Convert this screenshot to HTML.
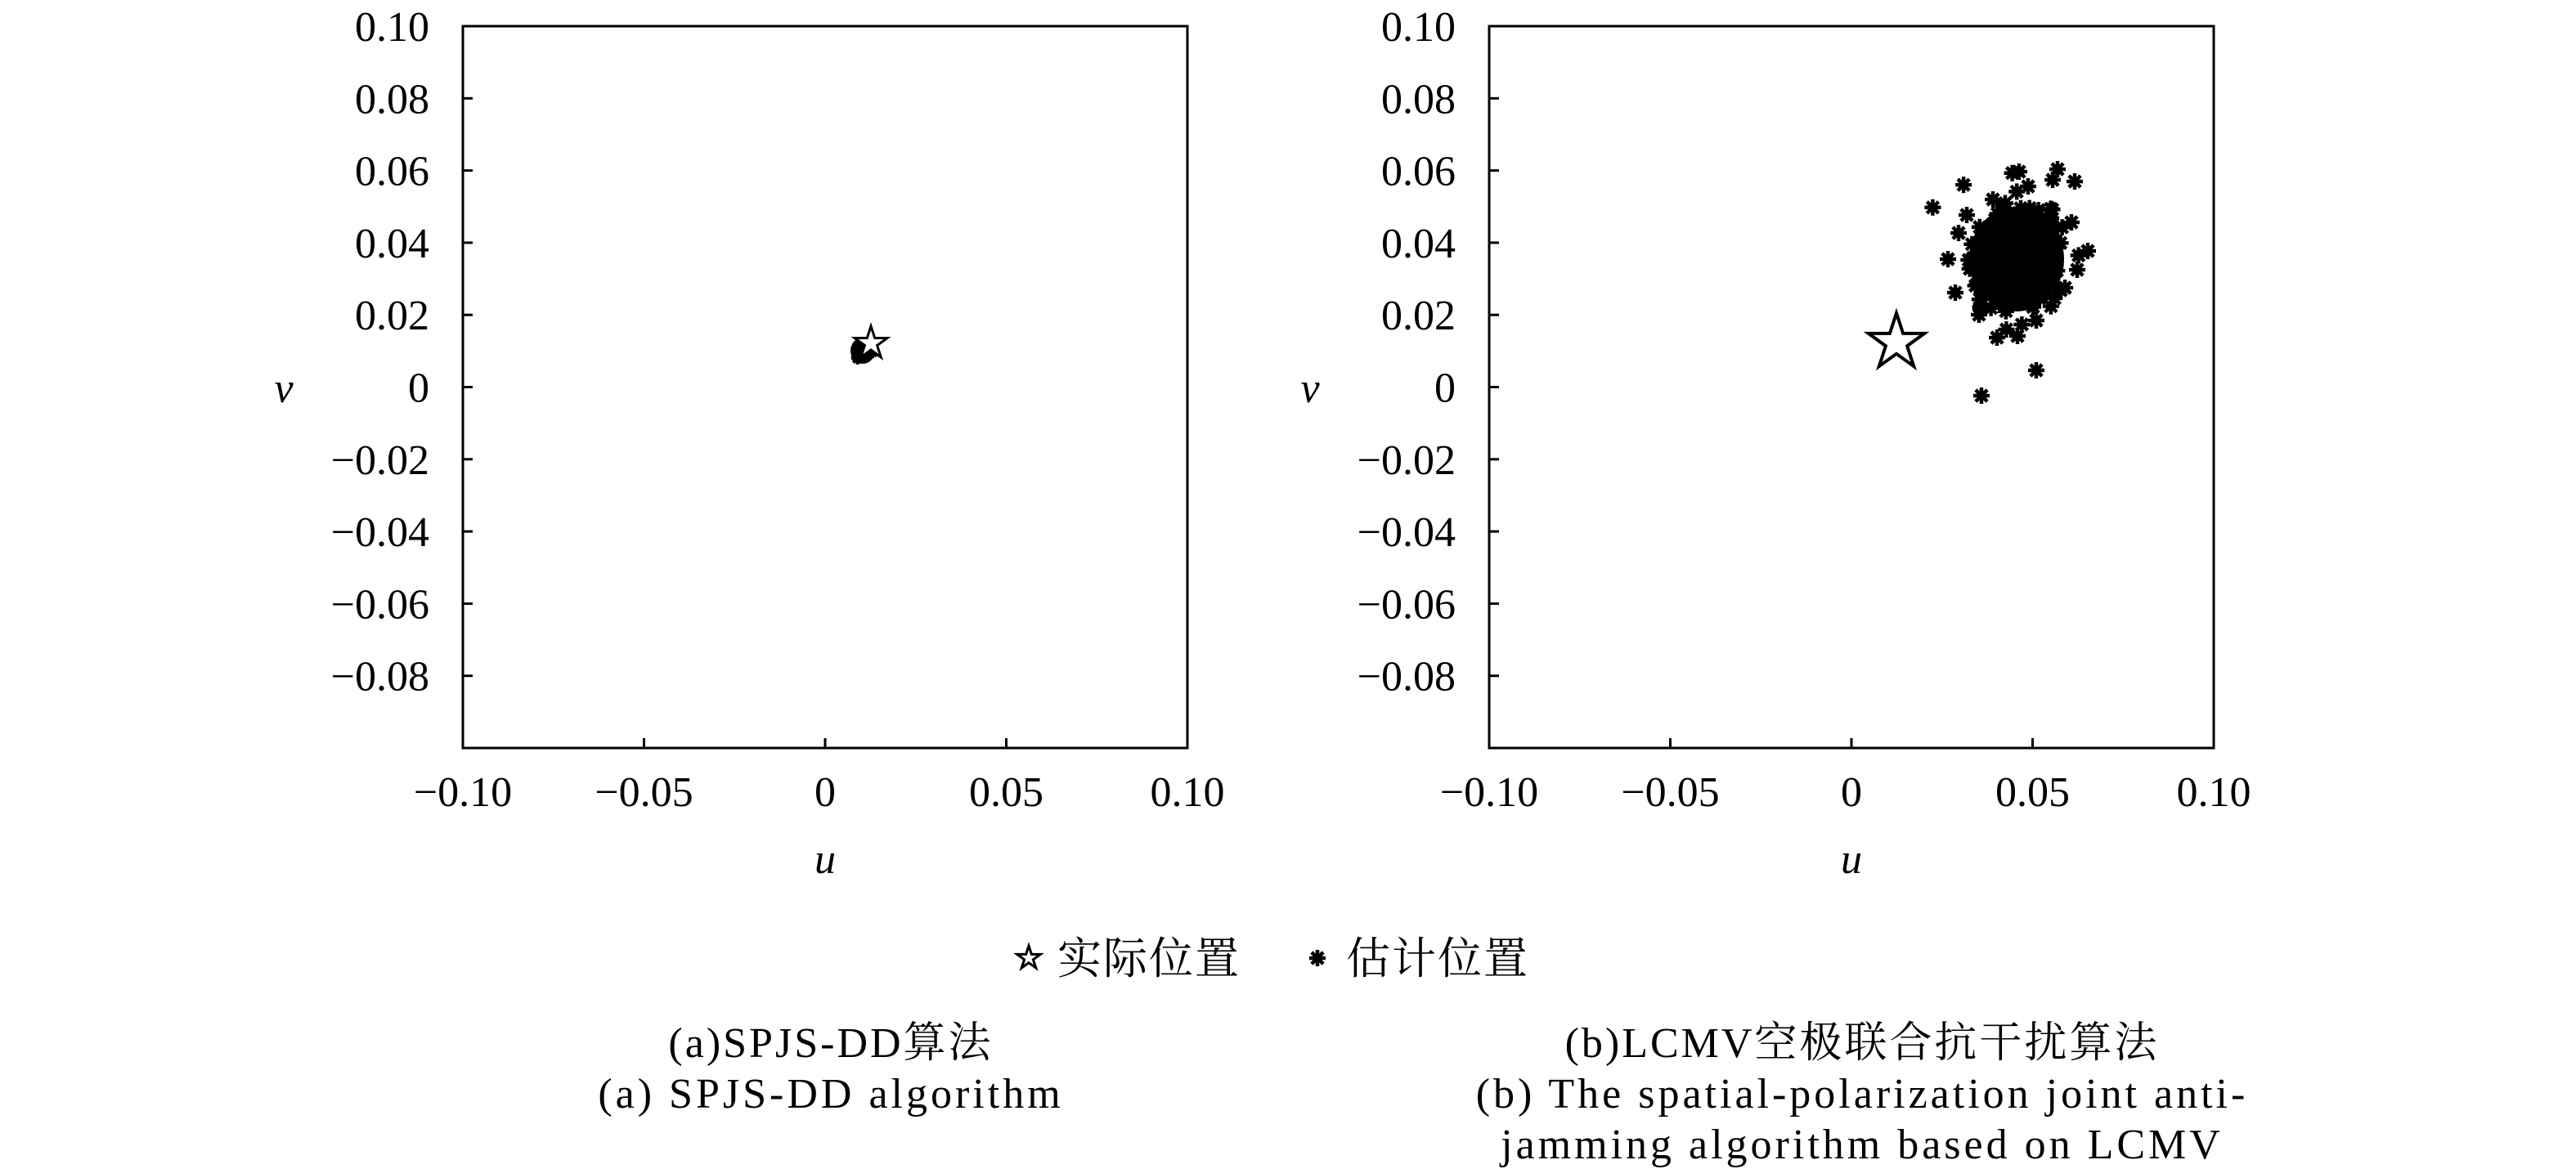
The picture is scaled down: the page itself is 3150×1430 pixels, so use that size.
<!DOCTYPE html>
<html><head><meta charset="utf-8"><style>
body{margin:0;background:#fff;}
svg{display:block;}
text{font-family:"Liberation Serif","Noto Serif CJK SC",serif;fill:#000;}
</style></head><body>
<svg id="s" width="3150" height="1430" viewBox="0 0 3150 1430" xmlns="http://www.w3.org/2000/svg">
<g id="plots"></g>
<g>
<text x="1293" y="1191" font-size="54" letter-spacing="2" font-family="Liberation Serif, Noto Serif CJK SC, serif">实际位置</text>
<text x="1646" y="1191" font-size="54" letter-spacing="2" font-family="Liberation Serif, Noto Serif CJK SC, serif">估计位置</text>
<text x="1016" y="1293" text-anchor="middle" font-size="52" letter-spacing="3">(a)SPJS-DD算法</text>
<text x="1016" y="1355" text-anchor="middle" font-size="52" letter-spacing="4">(a) SPJS-DD algorithm</text>
<text x="2277" y="1293" text-anchor="middle" font-size="52" letter-spacing="3">(b)LCMV空极联合抗干扰算法</text>
<text x="2277" y="1355" text-anchor="middle" font-size="52" letter-spacing="4">(b) The spatial-polarization joint anti-</text>
<text x="2277" y="1417" text-anchor="middle" font-size="52" letter-spacing="4">jamming algorithm based on LCMV</text>
</g>
</svg>
<script>
var NS="http://www.w3.org/2000/svg";
var g=document.getElementById("plots");
function el(t,a,txt){var e=document.createElementNS(NS,t);for(var k in a)e.setAttribute(k,a[k]);if(txt!=null)e.textContent=txt;g.appendChild(e);return e;}
function star(cx,cy,R,sw){var r=R*0.382,p=[];for(var i=0;i<10;i++){var a=-Math.PI/2+i*Math.PI/5,rr=i%2?r:R;p.push((cx+rr*Math.cos(a)).toFixed(1)+","+(cy+rr*Math.sin(a)).toFixed(1));}
el("polygon",{points:p.join(" "),fill:"#fff",stroke:"#000","stroke-width":sw});}
function ast(cx,cy,r){var d="";for(var i=0;i<4;i++){var a=i*Math.PI/4;var dx=r*Math.cos(a),dy=r*Math.sin(a);d+="M"+(cx-dx).toFixed(1)+" "+(cy-dy).toFixed(1)+"L"+(cx+dx).toFixed(1)+" "+(cy+dy).toFixed(1);}
el("path",{d:d,stroke:"#000","stroke-width":4.5,fill:"none"});}
var seed=7;function rnd(){seed=(seed*16807)%2147483647;return seed/2147483647;}
function gauss(){return Math.sqrt(-2*Math.log(rnd()+1e-9))*Math.cos(2*Math.PI*rnd());}
function axes(x0){
 var W=886,H=883,y0=32,y1=y0+H;
 el("rect",{x:x0,y:y0,width:W,height:H,fill:"none",stroke:"#000","stroke-width":3});
 var yl=["0.10","0.08","0.06","0.04","0.02","0","\u22120.02","\u22120.04","\u22120.06","\u22120.08"];
 for(var i=0;i<10;i++){var y=y0+i*H/10;
  el("line",{x1:x0,y1:y,x2:x0+12,y2:y,stroke:"#000","stroke-width":3});
  el("text",{x:x0-41,y:y+18,"text-anchor":"end","font-size":52},yl[i]);}
 var xl=["\u22120.10","\u22120.05","0","0.05","0.10"];
 for(var i=0;i<5;i++){var x=x0+i*W/4;
  if(i>0&&i<4)el("line",{x1:x,y1:y1,x2:x,y2:y1-12,stroke:"#000","stroke-width":3});
  el("text",{x:x,y:986,"text-anchor":"middle","font-size":52},xl[i]);}
 el("text",{x:x0+W/2,y:1068,"text-anchor":"middle","font-size":52,"font-style":"italic"},"u");
 el("text",{x:x0-219,y:492,"text-anchor":"middle","font-size":52,"font-style":"italic"},"v");
}
axes(566);axes(1821);
// left plot
el("ellipse",{cx:1055,cy:429,rx:15,ry:16,fill:"#000"});
for(var i=0;i<30;i++){ast(1055+gauss()*3,429+gauss()*3,8);}
star(1065,420,21,3);
// right plot
star(2319,419,36,4);
el("ellipse",{cx:2466,cy:317,rx:58,ry:64,fill:"#000"});
for(var i=0;i<500;i++){ast(2466+gauss()*24,317+gauss()*26,10);}
var out=[[2469,210],[2516,207],[2537,222],[2510,220],[2480,228],[2437,244],[2382,317],[2391,358],[2553,307],[2533,272],[2490,392],[2442,413],[2467,411],[2490,453],[2423,484],[2405,263],[2395,285],[2420,385],[2520,355],[2540,330]];
out.forEach(function(p){ast(p[0],p[1],10);});
// legend markers
star(1258,1172,15,3);
ast(1611,1172,10);
</script>
</body></html>
